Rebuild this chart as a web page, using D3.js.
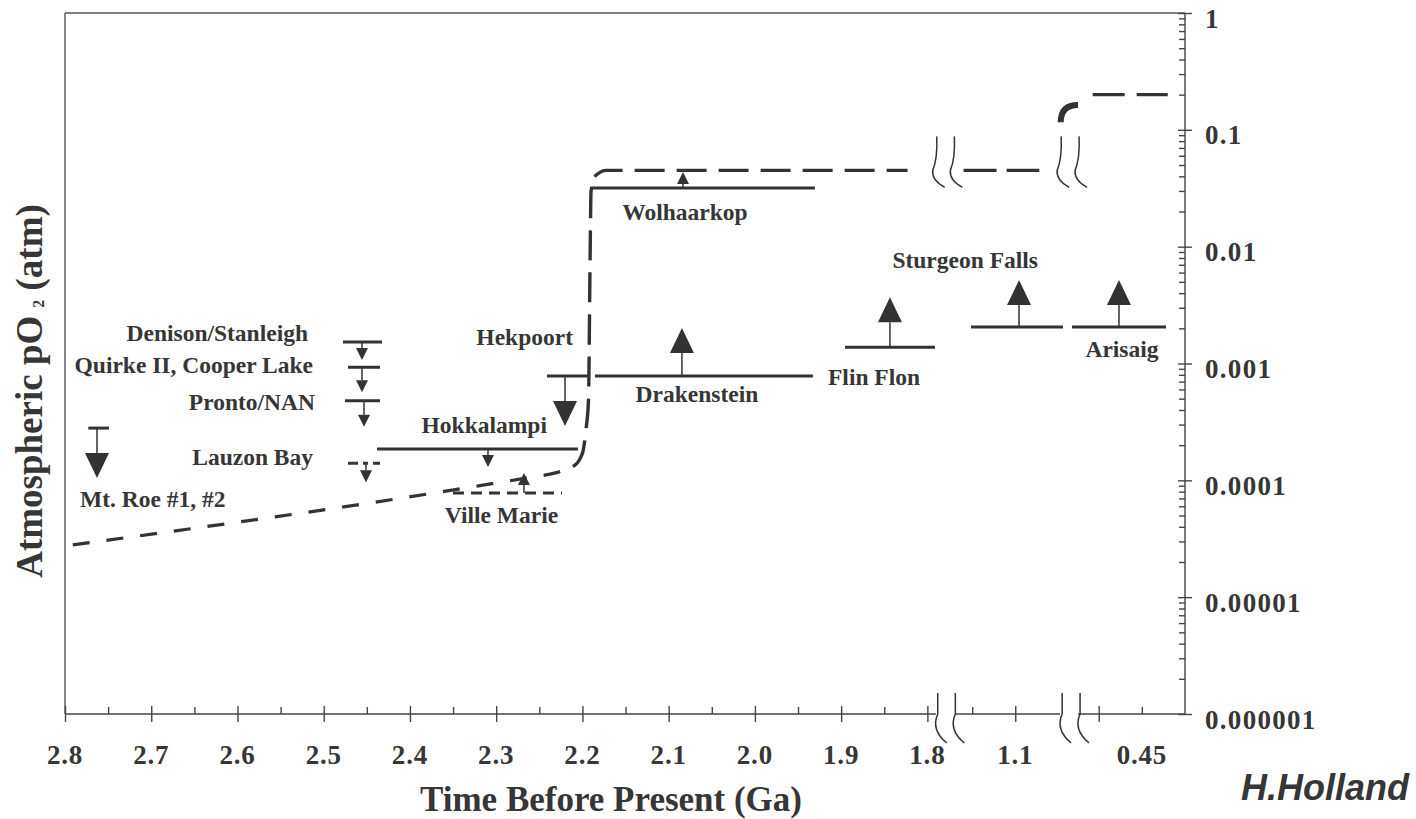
<!DOCTYPE html>
<html>
<head>
<meta charset="utf-8">
<script src="https://cdn.jsdelivr.net/npm/d3@7"></script>
<style>
  body { margin: 0; background: #fff; }
  svg text { font-family: "Liberation Serif", "Times New Roman", serif; font-weight: bold; fill: #363636; }
  .tick line { stroke: #444; stroke-width: 1.4; }
</style>
</head>
<body>
<svg id="chart" width="1416" height="819"></svg>
<script>
// ---------- data ----------
// y axis: atmospheric pO2 (atm), log scale
const y_major = [1, 0.1, 0.01, 0.001, 0.0001, 0.00001, 0.000001];
const y_labels = ["1", "0.1", "0.01", "0.001", "0.0001", "0.00001", "0.000001"];

// x axis is broken in three pieces (Ga)
const seg_extent = [[2.8, 1.79], [1.17, 1.048], [0.524, 0.40]];
const seg_major = [[2.8, 2.7, 2.6, 2.5, 2.4, 2.3, 2.2, 2.1, 2.0, 1.9, 1.8], [1.1], [0.5]];
const seg_minor = [[2.75, 2.65, 2.55, 2.45, 2.35, 2.25, 2.15, 2.05, 1.95, 1.85], [1.15], [0.45]];
const x_label_at = [2.8, 2.7, 2.6, 2.5, 2.4, 2.3, 2.2, 2.1, 2.0, 1.9, 1.8, 1.1, 0.45];
const x_labels = ["2.8", "2.7", "2.6", "2.5", "2.4", "2.3", "2.2", "2.1", "2.0", "1.9", "1.8", "1.1", "0.45"];
const break_at = [1.788, 1.1696, 1.0455, 0.5216];
const break_level = 0.045;

// model pO2 curve (dashed)
const model_early_t = [2.791, 2.319, 2.261, 2.229, 2.211];
const model_early_v = [2.8e-5, 9.0e-5, 1.06e-4, 1.17e-4, 1.31e-4];
const model_rise_t = [2.211, 2.200, 2.196, 2.193, 2.191, 2.190, 2.184, 2.172, 1.823];
const model_rise_v = [1.31e-4, 1.70e-4, 2.67e-4, 4.8e-4, 9.3e-3, 0.030, 0.041, 0.045, 0.045];
const model_mid_t = [1.16, 1.072];
const model_mid_v = [0.045, 0.045];
const model_arc_t = [0.544, 0.524];
const model_arc_v = [0.116, 0.163];
const model_late_t = [0.507, 0.42];
const model_late_v = [0.2, 0.2];

// paleosol / red bed constraints
const site_names = ["Mt. Roe #1, #2", "Denison/Stanleigh", "Quirke II, Cooper Lake", "Pronto/NAN",
  "Lauzon Bay", "Hokkalampi", "Ville Marie", "Hekpoort", "Drakenstein", "Wolhaarkop",
  "Flin Flon", "Sturgeon Falls", "Arisaig"];
const site_start = [2.773, 2.4776, 2.4718, 2.4753, 2.4718, 2.4382, 2.3501, 2.2411, 2.1854, 2.1912, 1.8955, 1.1514, 0.531];
const site_end   = [2.749, 2.4324, 2.4347, 2.4347, 2.4347, 2.2052, 2.2237, 2.1912, 1.9327, 1.9303, 1.7912, 1.0445, 0.422];
const site_arrow = [2.7629, 2.4556, 2.4556, 2.4533, 2.4510, 2.3095, 2.2678, 2.2202, 2.0846, 2.0834, 1.8434, 1.0956, 0.4765];
const site_po2   = [2.8e-4, 1.53e-3, 9.3e-4, 4.8e-4, 1.4e-4, 1.85e-4, 7.8e-5, 7.8e-4, 7.8e-4, 0.0318, 1.38e-3, 2.05e-3, 2.05e-3];
const site_limit = ["upper", "upper", "upper", "upper", "upper", "upper", "lower", "upper", "lower", "lower", "lower", "lower", "lower"];

// ---------- layout / style ----------
const layout = {
  seg_range: [[65, 936], [955, 1060], [1078, 1185]],
  y_range: [714, 13],
  left: 65,
  right: 1185
};
const site_style = [
  {big: true,  len: 50, dash: null,      anchor: "start",  ref: "arrow", dx: -17, dy: 79},
  {big: false, len: 18, dash: null,      anchor: "end",    ref: "start", dx: -35, dy: -1},
  {big: false, len: 25, dash: null,      anchor: "end",    ref: "start", dx: -35, dy: 6},
  {big: false, len: 26, dash: null,      anchor: "end",    ref: "start", dx: -30, dy: 9},
  {big: false, len: 19, dash: "10,5,5,5", anchor: "end",   ref: "start", dx: -35, dy: 2},
  {big: false, len: 18, dash: null,      anchor: "end",    ref: "end",   dx: -31, dy: -16},
  {big: false, len: 20, dash: "11,7",    anchor: "middle", ref: "mid",   dx: -6,  dy: 30},
  {big: true,  len: 50, dash: null,      anchor: "end",    ref: "start", dx: 26,  dy: -31},
  {big: true,  len: 48, dash: null,      anchor: "middle", ref: "arrow", dx: 15,  dy: 26},
  {big: false, len: 16, dash: null,      anchor: "middle", ref: "arrow", dx: 2,   dy: 32},
  {big: true,  len: 50, dash: null,      anchor: "start",  ref: "start", dx: -17, dy: 38},
  {big: true,  len: 47, dash: null,      anchor: "end",    ref: "end",   dx: -25, dy: -59},
  {big: true,  len: 47, dash: null,      anchor: "middle", ref: "arrow", dx: 3,   dy: 30}
];
const ink = "#333";

const svg = d3.select("#chart");

// ---------- scales ----------
const x_scales = seg_extent.map((e, i) => d3.scaleLinear().domain(e).range(layout.seg_range[i]));
const seg_index = (t) => t >= 1.7 ? 0 : (t >= 0.8 ? 1 : 2);
const x = (t) => x_scales[seg_index(t)](t);
const y = d3.scaleLog().domain([1e-6, 1]).range(layout.y_range);

const y_bottom = y(1e-6), y_top = y(1);

// ---------- frame ----------
svg.append("line")
  .attr("x1", layout.left).attr("x2", layout.right)
  .attr("y1", y_top).attr("y2", y_top)
  .attr("stroke", "#555").attr("stroke-width", 1.4);
svg.append("line")
  .attr("x1", layout.left).attr("x2", layout.left)
  .attr("y1", y_top).attr("y2", y_bottom)
  .attr("stroke", "#555").attr("stroke-width", 1.4);

// ---------- right y axis ----------
const y_minor = [];
for (let e = -6; e < 0; e++) {
  for (let m = 2; m <= 9; m++) y_minor.push(m * Math.pow(10, e));
}
const y_axis = svg.append("g")
  .attr("transform", `translate(${layout.right},0)`)
  .call(d3.axisRight(y).tickValues(y_major).tickFormat((d, i) => y_labels[i]).tickSize(7).tickPadding(13));
y_axis.select(".domain").remove();
y_axis.selectAll(".tick line").attr("x1", -7);
y_axis.selectAll(".tick text")
  .attr("dy", "0.52em")
  .style("font-size", "27px")
  .style("letter-spacing", "1.3px")
  .attr("fill", "#363636");
const y_axis_minor = svg.append("g")
  .attr("transform", `translate(${layout.right},0)`)
  .call(d3.axisRight(y).tickValues(y_minor).tickFormat("").tickSize(-6));
y_axis_minor.select(".domain").remove();
svg.append("line")
  .attr("x1", layout.right).attr("x2", layout.right)
  .attr("y1", y_top).attr("y2", y_bottom)
  .attr("stroke", "#444").attr("stroke-width", 1.4);

// ---------- broken x axis ----------
x_scales.forEach((xs, i) => {
  const g_major = svg.append("g")
    .attr("transform", `translate(0,${y_bottom})`)
    .call(d3.axisBottom(xs).tickValues(seg_major[i]).tickFormat("").tickSize(8));
  g_major.select(".domain").remove();
  g_major.selectAll(".tick line").attr("y1", -8);
  const g_minor = svg.append("g")
    .attr("transform", `translate(0,${y_bottom})`)
    .call(d3.axisBottom(xs).tickValues(seg_minor[i]).tickFormat("").tickSize(-7));
  g_minor.select(".domain").remove();
  svg.append("line")
    .attr("x1", layout.seg_range[i][0]).attr("x2", layout.seg_range[i][1])
    .attr("y1", y_bottom).attr("y2", y_bottom)
    .attr("stroke", "#444").attr("stroke-width", 1.4);
});

svg.append("g")
  .selectAll("text")
  .data(x_label_at)
  .join("text")
    .attr("x", (d) => x(d))
    .attr("y", y_bottom + 50)
    .attr("text-anchor", "middle")
    .style("font-size", "27px")
    .style("letter-spacing", "0.8px")
    .text((d, i) => x_labels[i]);

// break symbols on the axis and on the model curve
function break_path(up, down) {
  return `M0,${-up} L0,0 Q-7,${down * 0.55} 9,${down}`;
};
svg.append("g")
  .selectAll("path.axis-break")
  .data(break_at)
  .join("path")
    .attr("class", "axis-break")
    .attr("transform", (d) => `translate(${x(d)},${y_bottom})`)
    .attr("d", break_path(21, 29))
    .attr("fill", "none").attr("stroke", ink).attr("stroke-width", 1.5);
svg.append("g")
  .selectAll("path.curve-break")
  .data(break_at)
  .join("path")
    .attr("class", "curve-break")
    .attr("transform", (d) => `translate(${x(d) - 1},${y(break_level)})`)
    .attr("d", `M0,-34 Q1,-12 -4,0 Q-5,10 8,17`)
    .attr("fill", "none").attr("stroke", ink).attr("stroke-width", 1.5);

// ---------- model curve ----------
const line_gen = d3.line()
  .x((d) => x(d[0]))
  .y((d) => y(d[1]))
  .curve(d3.curveMonotoneX);
const pairs = (ts, vs) => ts.map((t, i) => [t, vs[i]]);

function draw_model(ts, vs, dash, width) {
  svg.append("path")
    .attr("d", line_gen(pairs(ts, vs)))
    .attr("fill", "none")
    .attr("stroke", ink)
    .attr("stroke-width", width)
    .attr("stroke-dasharray", dash);
};
draw_model(model_early_t, model_early_v, "17,17", 3.2);
draw_model(model_rise_t, model_rise_v, "30,12", 3.4);
draw_model(model_mid_t, model_mid_v, "33,10", 3.4);
draw_model(model_late_t, model_late_v, "32,12", 3.4);

// short thick arc where the curve steps up again
const arc_x0 = x(model_arc_t[0]), arc_y0 = y(model_arc_v[0]);
const arc_x1 = x(model_arc_t[1]), arc_y1 = y(model_arc_v[1]);
const arc_path = d3.path();
arc_path.moveTo(arc_x0, arc_y0);
arc_path.quadraticCurveTo(arc_x0, arc_y1, arc_x1, arc_y1);
svg.append("path")
  .attr("d", arc_path.toString())
  .attr("fill", "none").attr("stroke", ink).attr("stroke-width", 6);

// ---------- site constraints ----------
const g_sites = svg.append("g");
site_names.forEach((name, i) => {
  const st = site_style[i];
  const cy = y(site_po2[i]);
  const ax = x(site_arrow[i]);
  const dir = site_limit[i] === "upper" ? 1 : -1;
  const tip = cy + dir * st.len;
  const tw = st.big ? 24 : 12, th = st.big ? 25 : 12;

  g_sites.append("line")
    .attr("x1", x(site_start[i])).attr("x2", x(site_end[i]))
    .attr("y1", cy).attr("y2", cy)
    .attr("stroke", ink).attr("stroke-width", 3)
    .attr("stroke-dasharray", st.dash);
  g_sites.append("line")
    .attr("x1", ax).attr("x2", ax)
    .attr("y1", cy).attr("y2", tip - dir * th)
    .attr("stroke", ink).attr("stroke-width", 1.5);
  g_sites.append("path")
    .attr("d", d3.line()([[ax - tw / 2, tip - dir * th], [ax + tw / 2, tip - dir * th], [ax, tip]]) + "Z")
    .attr("fill", ink);

  const ref_x = st.ref === "start" ? x(site_start[i])
    : st.ref === "end" ? x(site_end[i])
    : st.ref === "mid" ? (x(site_start[i]) + x(site_end[i])) / 2
    : ax;
  g_sites.append("text")
    .attr("x", ref_x + st.dx)
    .attr("y", cy + st.dy)
    .attr("text-anchor", st.anchor)
    .style("font-size", "23.5px")
    .text(name);
});

// ---------- titles ----------
svg.append("text")
  .attr("x", 611)
  .attr("y", 811)
  .attr("text-anchor", "middle")
  .style("font-size", "35px")
  .text("Time Before Present (Ga)");

const y_title = svg.append("text")
  .attr("transform", "translate(42,391) rotate(-90)")
  .attr("text-anchor", "middle")
  .style("font-size", "37px");
y_title.append("tspan").text("Atmospheric pO");
y_title.append("tspan").attr("dx", 8).attr("dy", 2).style("font-size", "16px").text("2");
y_title.append("tspan").attr("dy", -2).text(" (atm)");

svg.append("text")
  .attr("x", 1409)
  .attr("y", 800)
  .attr("text-anchor", "end")
  .style("font-family", "'Liberation Sans', Arial, sans-serif")
  .style("font-style", "italic")
  .style("font-size", "36px")
  .attr("fill", "#222")
  .text("H.Holland");
</script>
</body>
</html>
